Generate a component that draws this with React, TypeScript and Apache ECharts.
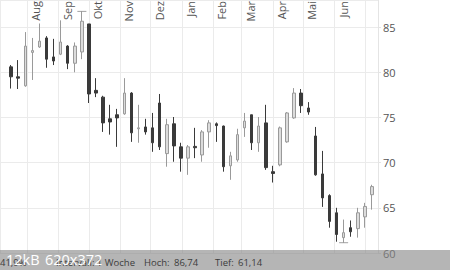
import React, { useEffect, useRef } from 'react';
import * as echarts from 'echarts';

const weeks = [
  '2013-07-16', '2013-07-23', '2013-07-30', '2013-08-06', '2013-08-13', '2013-08-20', '2013-08-27',
  '2013-09-03', '2013-09-10', '2013-09-17', '2013-09-24', '2013-10-01', '2013-10-08', '2013-10-15',
  '2013-10-22', '2013-10-29', '2013-11-05', '2013-11-12', '2013-11-19', '2013-11-26', '2013-12-03',
  '2013-12-10', '2013-12-17', '2013-12-24', '2013-12-31', '2014-01-07', '2014-01-14', '2014-01-21',
  '2014-01-28', '2014-02-04', '2014-02-11', '2014-02-18', '2014-02-25', '2014-03-04', '2014-03-11',
  '2014-03-18', '2014-03-25', '2014-04-01', '2014-04-08', '2014-04-15', '2014-04-22', '2014-04-29',
  '2014-05-06', '2014-05-13', '2014-05-20', '2014-05-27', '2014-06-03', '2014-06-10', '2014-06-17',
  '2014-06-24', '2014-07-01', '2014-07-08',
];

const opens = [
  80.6, 79.5, 78.5, 82.2, 82.8, 83.8, 81.7, 82.0, 82.9, 81.0, 82.25, 85.35, 78.0,
  77.25, 74.85, 75.3, 75.4, 77.7, 73.75, 73.95, 73.85, 76.6, 71.0, 74.3, 71.75, 70.5,
  71.8, 70.85, 73.4, 74.3, 74.05, 69.65, 70.3, 73.85, 75.3, 72.2, 74.4, 69.0, 69.75,
  72.3, 74.95, 77.7, 76.05, 72.95, 68.75, 66.35, 64.45, 61.7, 62.8, 62.7, 64.0, 66.45,
];
const closes = [
  79.5, 79.35, 82.9, 82.4, 83.45, 81.45, 81.25, 83.35, 81.0, 82.9, 85.65, 77.6, 77.7,
  74.4, 74.5, 74.95, 77.7, 73.3, 73.85, 73.4, 72.2, 71.75, 74.2, 71.85, 70.5, 71.75,
  71.65, 73.4, 74.4, 74.1, 69.55, 70.75, 73.1, 74.6, 72.2, 74.05, 69.45, 68.8, 73.85,
  75.5, 77.7, 76.3, 75.6, 68.65, 66.1, 63.5, 62.05, 62.25, 62.35, 64.45, 65.15, 67.35,
];
const lows = [
  78.2, 78.15, 78.4, 79.15, 82.7, 80.5, 80.8, 81.9, 80.35, 80.0, 81.45, 76.6, 77.25,
  73.4, 73.1, 71.75, 75.3, 72.3, 72.2, 73.1, 71.2, 71.4, 69.55, 70.1, 69.0, 68.65,
  70.5, 70.1, 71.65, 72.3, 69.0, 68.1, 70.1, 72.85, 71.4, 71.2, 69.2, 67.8, 69.6,
  72.2, 74.85, 75.5, 75.3, 68.55, 65.1, 62.8, 61.25, 61.14, 61.8, 61.7, 62.8, 64.8,
];
const highs = [
  80.8, 81.35, 84.45, 83.8, 85.4, 84.0, 83.7, 85.75, 83.0, 83.3, 86.74, 85.35, 79.35,
  77.4, 76.4, 75.95, 79.35, 77.8, 76.4, 74.85, 75.5, 77.6, 74.85, 75.05, 72.2, 71.95,
  73.85, 73.6, 74.7, 74.45, 74.1, 71.2, 73.75, 75.5, 75.3, 75.05, 76.4, 69.65, 74.0,
  75.6, 78.25, 78.15, 76.7, 73.95, 71.3, 66.5, 65.0, 63.7, 63.6, 65.0, 65.55, 67.55,
];

const monthNames = ['Jan', 'Feb', 'Mar', 'Apr', 'Mai', 'Jun', 'Jul', 'Aug', 'Sep', 'Okt', 'Nov', 'Dez'];
const axisStart = '2013-07-05';
const axisEnd = '2014-07-14';
const yMin = 60;
const yMax = 88;
const yStep = 5;

const footerTexts = [
  { text: '41,9%', x: 0 },
  { text: 'Intervall: 1 Woche', x: 56 },
  { text: 'Hoch:', x: 144 },
  { text: '86,74', x: 174 },
  { text: 'Tief:', x: 215 },
  { text: '61,14', x: 238 },
];
const overlayTexts = [
  { text: '12kB', x: 6 },
  { text: '620x372', x: 45 },
];

export default function App() {
  const ref = useRef<HTMLDivElement>(null);
  useEffect(() => {
    if (!ref.current) return;
    const chart = echarts.init(ref.current, null, { renderer: 'svg' });
    const ts = weeks.map((w) => Date.parse(w));
    const candles = ts.map((t, i) => [t, opens[i], closes[i], lows[i], highs[i]]);
    let hi = 0;
    let lo = 0;
    highs.forEach((h, i) => { if (h > highs[hi]) hi = i; });
    lows.forEach((l, i) => { if (l < lows[lo]) lo = i; });
    const font = "'Open Sans', 'Noto Sans', sans-serif";
    const DAY = 86400000;
    chart.setOption({
      animation: false,
      useUTC: true,
      backgroundColor: '#ffffff',
      textStyle: { fontFamily: font },
      grid: { left: 0, right: 72, top: 0, bottom: 17, containLabel: false, outerBoundsMode: 'none' },
      xAxis: {
        type: 'time',
        position: 'top',
        min: Date.parse(axisStart),
        max: Date.parse(axisEnd),
        splitNumber: 12,
        minInterval: 28 * DAY,
        maxInterval: 31 * DAY,
        axisLine: { show: false },
        axisTick: { show: false },
        splitLine: { show: true, lineStyle: { color: '#ebebeb', width: 1 } },
        axisLabel: {
          inside: true,
          rotate: -90,
          align: 'right',
          verticalAlign: 'top',
          margin: 1,
          padding: [3, 0, 0, 0],
          color: '#555',
          fontSize: 11,
          fontFamily: font,
          showMinLabel: false,
          showMaxLabel: false,
          hideOverlap: false,
          formatter: (value: number) => {
            const d = new Date(value);
            if (d.getUTCDate() !== 1 || d.getUTCHours() !== 0) return '';
            const m = d.getUTCMonth();
            if (m === 6) return '';
            return monthNames[m];
          },
        },
      },
      yAxis: {
        type: 'value',
        position: 'right',
        min: yMin,
        max: yMax,
        interval: yStep,
        axisLine: { show: true, lineStyle: { color: '#e4e4e4' } },
        axisTick: { show: true, length: 3, lineStyle: { color: '#e4e4e4' } },
        splitLine: { show: true, lineStyle: { color: '#ebebeb' } },
        axisLabel: {
          color: '#555',
          fontSize: 11,
          margin: 5,
          fontFamily: font,
          showMaxLabel: false,
        },
      },
      series: [
        {
          type: 'candlestick',
          data: candles,
          barWidth: 3,
          itemStyle: {
            color: '#dcdcdc',
            color0: '#3a3a3a',
            borderColor: '#9a9a9a',
            borderColor0: '#3a3a3a',
            borderWidth: 1,
          },
        },
        {
          type: 'scatter',
          data: [[ts[hi], highs[hi]], [ts[lo], lows[lo]]],
          symbol: 'rect',
          symbolSize: [9, 1],
          itemStyle: { color: '#8a8a8a' },
          silent: true,
        },
      ],
      graphic: [
        {
          type: 'rect',
          left: 0,
          top: 250,
          z: 100,
          shape: { width: 450, height: 20 },
          style: { fill: 'rgba(135,135,135,0.62)' },
        },
        ...footerTexts.map((f) => ({
          type: 'text',
          x: f.x,
          y: 262,
          z: 101,
          style: {
            text: f.text,
            fill: '#3c3c3c',
            font: `9.5px ${font}`,
            textVerticalAlign: 'middle',
          },
        })),
        ...overlayTexts.map((f) => ({
          type: 'text',
          x: f.x,
          y: 259,
          z: 102,
          style: {
            text: f.text,
            fill: '#ffffff',
            font: `14.5px ${font}`,
            textVerticalAlign: 'middle',
          },
        })),
      ],
    });
    return () => chart.dispose();
  }, []);
  return (
    <div
      ref={ref}
      style={{ position: 'fixed', left: 0, top: 0, width: 450, height: 270 }}
    />
  );
}
